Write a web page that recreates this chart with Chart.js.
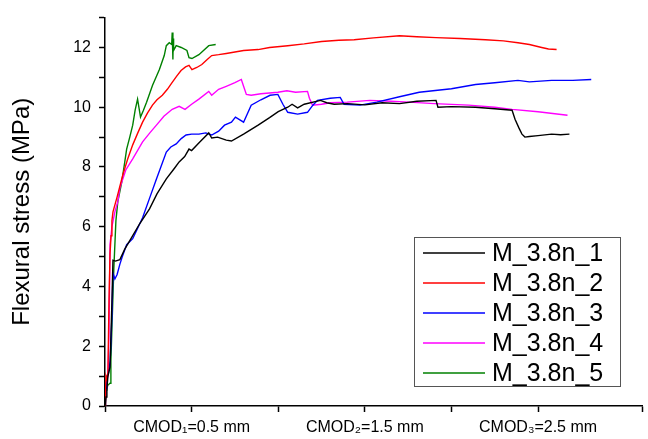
<!DOCTYPE html>
<html>
<head>
<meta charset="utf-8">
<script src="https://cdn.jsdelivr.net/npm/chart.js@4"></script>
<style>
  html, body { margin: 0; padding: 0; background: #fff; }
  canvas { display: block; }
</style>
</head>
<body>
<canvas id="chart" width="648" height="439"></canvas>
<script>
// CMOD (mm) / 抗折强度 (MPa)
const seriesLabels = ['M_3.8n_1', 'M_3.8n_2', 'M_3.8n_3', 'M_3.8n_4', 'M_3.8n_5'];
const seriesColors = ['#000000', '#ff0000', '#0000ff', '#ff00ff', '#008000'];
const cmodTicks = { 0.5: 'CMOD\u2081=0.5 mm', 1.5: 'CMOD\u2082=1.5 mm', 2.5: 'CMOD\u2083=2.5 mm' };

const x1 = [0, 0.006, 0.011, 0.017, 0.029, 0.04, 0.046, 0.06, 0.086, 0.114, 0.15, 0.2, 0.257, 0.3, 0.354, 0.4, 0.428, 0.46, 0.485, 0.5, 0.55, 0.599, 0.616, 0.65, 0.7, 0.73, 0.8, 0.884, 0.95, 1.0, 1.055, 1.08, 1.112, 1.15, 1.244, 1.28, 1.323, 1.4, 1.5, 1.6, 1.7, 1.8, 1.911, 1.922, 2.0, 2.139, 2.25, 2.35, 2.367, 2.39, 2.407, 2.424, 2.45, 2.5, 2.578, 2.63, 2.681];
const y1 = [0, 0.3, 0.6, 1.0, 1.3, 3.5, 4.88, 4.85, 4.9, 5.25, 5.6, 6.1, 6.6, 7.1, 7.6, 7.95, 8.17, 8.35, 8.6, 8.55, 8.85, 9.14, 8.97, 9.0, 8.9, 8.87, 9.1, 9.4, 9.65, 9.85, 10.0, 10.1, 9.98, 10.1, 10.23, 10.15, 10.1, 10.12, 10.08, 10.15, 10.12, 10.2, 10.23, 10.0, 10.02, 10.0, 9.95, 9.9, 9.6, 9.3, 9.1, 9.0, 9.02, 9.05, 9.1, 9.08, 9.1];

const x2 = [0, 0.003, 0.006, 0.011, 0.017, 0.023, 0.029, 0.035, 0.04, 0.046, 0.07, 0.103, 0.13, 0.16, 0.19, 0.217, 0.245, 0.274, 0.3, 0.331, 0.36, 0.388, 0.415, 0.439, 0.465, 0.485, 0.502, 0.53, 0.559, 0.59, 0.616, 0.656, 0.7, 0.75, 0.8, 0.884, 0.95, 1.055, 1.15, 1.25, 1.35, 1.438, 1.55, 1.7, 1.8, 1.911, 2.05, 2.196, 2.3, 2.384, 2.45, 2.521, 2.56, 2.607];
const y2 = [0, 0.5, 1.0, 0.9, 1.1, 3.5, 5.1, 5.7, 6.2, 6.5, 7.0, 7.74, 8.25, 8.74, 9.15, 9.5, 9.8, 10.07, 10.25, 10.4, 10.6, 10.83, 11.05, 11.23, 11.35, 11.4, 11.26, 11.33, 11.43, 11.6, 11.73, 11.76, 11.8, 11.85, 11.9, 11.93, 12.0, 12.06, 12.12, 12.2, 12.24, 12.26, 12.32, 12.39, 12.36, 12.33, 12.3, 12.26, 12.22, 12.16, 12.1, 12.0, 11.95, 11.93];

const x3 = [0, 0.003, 0.006, 0.011, 0.02, 0.03, 0.04, 0.046, 0.057, 0.07, 0.086, 0.1, 0.125, 0.16, 0.217, 0.26, 0.297, 0.354, 0.38, 0.411, 0.44, 0.468, 0.5, 0.542, 0.582, 0.616, 0.656, 0.69, 0.73, 0.753, 0.8, 0.844, 0.9, 0.953, 0.998, 1.027, 1.055, 1.112, 1.169, 1.2, 1.227, 1.3, 1.358, 1.38, 1.472, 1.569, 1.7, 1.814, 2.0, 2.139, 2.25, 2.384, 2.45, 2.578, 2.7, 2.807];
const y3 = [0, 0.2, 0.6, 1.0, 1.1, 1.5, 3.0, 4.45, 4.25, 4.4, 4.75, 5.0, 5.4, 5.6, 6.3, 7.0, 7.6, 8.5, 8.67, 8.77, 8.95, 9.07, 9.1, 9.1, 9.14, 9.07, 9.2, 9.4, 9.5, 9.67, 9.5, 10.07, 10.25, 10.4, 10.43, 10.1, 9.83, 9.77, 9.83, 10.07, 10.23, 10.3, 10.33, 10.1, 10.07, 10.17, 10.35, 10.5, 10.62, 10.76, 10.82, 10.9, 10.85, 10.9, 10.9, 10.93];

const x4 = [0, 0.006, 0.011, 0.017, 0.023, 0.029, 0.04, 0.057, 0.074, 0.086, 0.12, 0.16, 0.217, 0.26, 0.297, 0.34, 0.388, 0.428, 0.462, 0.5, 0.542, 0.599, 0.616, 0.656, 0.7, 0.75, 0.787, 0.8, 0.816, 0.844, 0.9, 0.998, 1.05, 1.1, 1.169, 1.18, 1.198, 1.25, 1.3, 1.398, 1.529, 1.65, 1.757, 1.9, 2.099, 2.25, 2.35, 2.5, 2.67];
const y4 = [0, 0.6, 0.9, 1.0, 2.5, 5.4, 6.0, 6.5, 6.84, 7.3, 7.9, 8.27, 8.84, 9.15, 9.4, 9.7, 9.93, 10.03, 9.93, 10.1, 10.27, 10.53, 10.4, 10.6, 10.7, 10.82, 10.93, 10.7, 10.43, 10.4, 10.45, 10.5, 10.55, 10.5, 10.53, 10.3, 10.07, 10.1, 10.15, 10.17, 10.23, 10.2, 10.17, 10.12, 10.07, 10.0, 9.93, 9.85, 9.73];

const x5 = [0, 0.003, 0.006, 0.011, 0.017, 0.029, 0.034, 0.04, 0.051, 0.063, 0.074, 0.097, 0.125, 0.143, 0.16, 0.174, 0.188, 0.205, 0.222, 0.24, 0.274, 0.314, 0.342, 0.354, 0.371, 0.385, 0.388, 0.392, 0.394, 0.396, 0.411, 0.44, 0.473, 0.485, 0.502, 0.542, 0.599, 0.639];
const y5 = [0, 0.3, 0.53, 0.6, 0.7, 0.76, 1.5, 2.6, 4.6, 6.2, 6.84, 7.5, 8.6, 9.0, 9.4, 9.9, 10.27, 9.67, 9.9, 10.17, 10.73, 11.26, 11.73, 12.06, 12.16, 12.1, 12.5, 11.6, 12.3, 11.9, 12.06, 12.0, 11.9, 11.66, 11.63, 11.76, 12.06, 12.1];

const xs = [x1, x2, x3, x4, x5];
const ys = [y1, y2, y3, y4, y5];

const FONT = 'Arial, "Liberation Sans", sans-serif';

// 图内图例（带边框）
const boxLegend = {
    id: 'boxLegend',
    afterDraw(chart) {
        const ctx = chart.ctx;
        const left = 414, top = 237, w = 206, h = 149;
        ctx.save();
        ctx.fillStyle = '#fff';
        ctx.fillRect(left, top, w, h);
        ctx.strokeStyle = '#555';
        ctx.lineWidth = 1;
        ctx.strokeRect(left + 0.5, top + 0.5, w, h);
        ctx.font = '25px ' + FONT;
        ctx.textBaseline = 'middle';
        seriesLabels.forEach((label, i) => {
            const y = top + 16 + i * 30;
            ctx.strokeStyle = seriesColors[i];
            ctx.lineWidth = 1.6;
            ctx.beginPath();
            ctx.moveTo(423, y);
            ctx.lineTo(485, y);
            ctx.stroke();
            ctx.fillStyle = '#000';
            ctx.fillText(label, 492, y + 1);
        });
        ctx.restore();
    }
};

new Chart(document.getElementById('chart'), {
    type: 'scatter',
    data: {
        datasets: seriesLabels.map((label, i) => ({
            label: label,
            data: xs[i].map((x, k) => ({ x: x, y: ys[i][k] })),
            borderColor: seriesColors[i],
            backgroundColor: seriesColors[i],
            borderWidth: 1.4,
            showLine: true,
            pointRadius: 0,
            tension: 0
        }))
    },
    options: {
        responsive: false,
        animation: false,
        layout: { padding: { top: 14, right: 0, left: 0, bottom: 0 } },
        plugins: {
            legend: { display: false },
            tooltip: { enabled: false }
        },
        scales: {
            x: {
                type: 'linear',
                min: 0,
                max: 3.1,
                border: { display: true, color: '#000', width: 1.5 },
                grid: { drawOnChartArea: false, drawTicks: true, tickLength: 6, color: '#000', tickWidth: 1.5 },
                ticks: {
                    stepSize: 0.5,
                    autoSkip: false,
                    maxRotation: 0,
                    padding: 6,
                    color: '#000',
                    font: { family: FONT, size: 16 },
                    callback: v => cmodTicks[v] || ''
                },
                afterFit: s => { s.height = 33; }
            },
            y: {
                min: 0,
                max: 13,
                border: { display: true, color: '#000', width: 1.5 },
                grid: { drawOnChartArea: false, drawTicks: true, tickLength: 6, color: '#000', tickWidth: 1.5 },
                ticks: {
                    stepSize: 1,
                    autoSkip: false,
                    padding: 8,
                    color: '#000',
                    font: { family: FONT, size: 16 },
                    callback: v => (v % 2 === 0 ? String(v) : '')
                },
                title: {
                    display: true,
                    text: 'Flexural stress (MPa)',
                    color: '#000',
                    font: { family: FONT, size: 24 },
                    padding: { top: 8, bottom: 0 }
                },
                afterFit: s => { s.width = 105; }
            }
        }
    },
    plugins: [boxLegend]
});
</script>
</body>
</html>
